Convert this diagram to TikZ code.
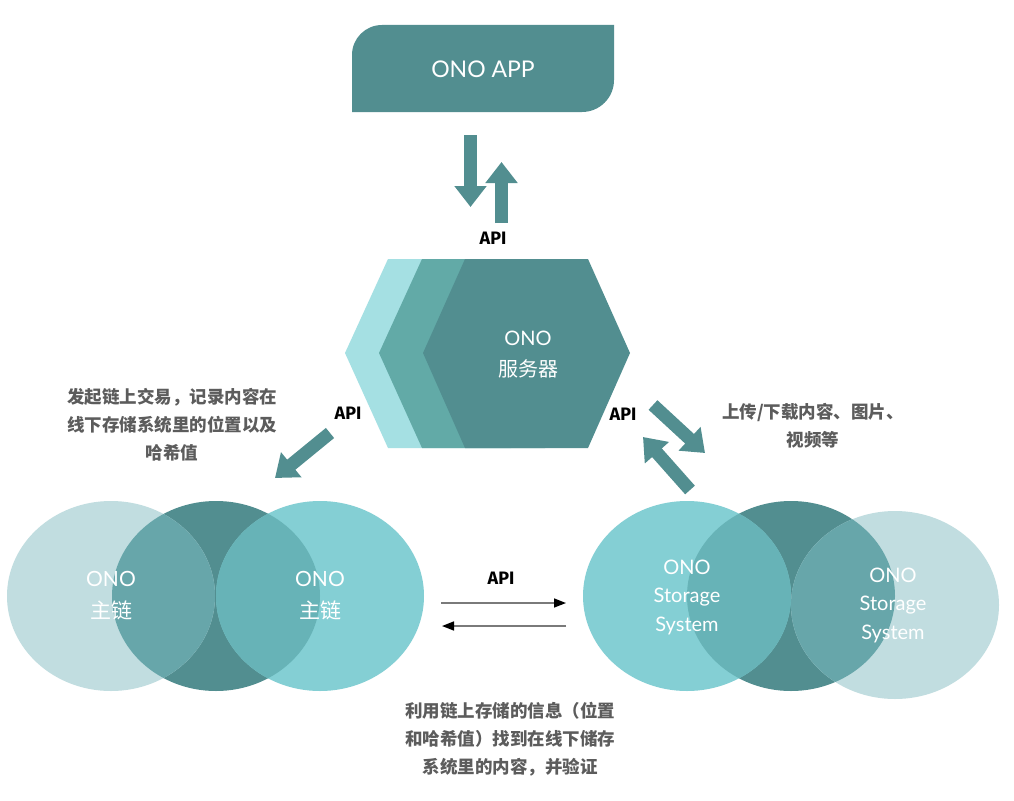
\documentclass[tikz,border=0pt]{standalone}
\usepackage{fontspec}
\setmainfont{Lato}
\newfontfamily\cjk{Noto Sans CJK SC}
\newfontfamily\apifont{Fira Sans}
\usetikzlibrary{arrows.meta,shapes.geometric}
\definecolor{tealD}{HTML}{528E90}
\definecolor{tealM}{HTML}{62AAA7}
\definecolor{tealL}{HTML}{A5E0E3}
\definecolor{cyanC}{HTML}{84CFD4}
\definecolor{paleC}{HTML}{C1DDE0}
\definecolor{ovA}{HTML}{67A6AA}
\definecolor{ovB}{HTML}{67B3B7}
\definecolor{notegray}{HTML}{5C5C5C}
\definecolor{linegray}{HTML}{7A7A7A}
\begin{document}
\begin{tikzpicture}[x=1pt,y=-1pt,
  fatarrow/.style={draw=tealD,line width=13pt,-{Triangle[length=21pt,width=31pt]}},
  thinarrow/.style={draw=linegray,line width=1.5pt,-{Triangle[length=12pt,width=9pt,color=black]}},
  apilabel/.style={font=\apifont\bfseries\fontsize{18}{20}\selectfont,text=black,inner sep=0pt},
  whitetext/.style={text=white,align=center,inner sep=0pt},
  note/.style={text=notegray,align=center,inner sep=0pt,font=\cjk\bfseries\fontsize{17.5}{28}\selectfont},
  circ/.style={ellipse,minimum width=208pt,minimum height=190pt,inner sep=0pt}]
\useasboundingbox[fill=white] (0,0) rectangle (1014,800);

% ---- ONO APP ----
\fill[tealD] (352,112) -- (352,55) .. controls (352,38.4) and (365.4,25) .. (382,25)
  -- (614,25) -- (614,80) .. controls (614,97.7) and (599.7,112) .. (582,112) -- cycle;
\node[whitetext,font=\fontsize{23}{26}\selectfont] (app) at (483,69) {ONO APP};

% ---- server hexagon ----
\fill[tealL] (345,353) -- (388,259) -- (511,259) -- (553,353) -- (511,448) -- (388,448) -- cycle;
\fill[tealM] (379,353) -- (422,259) -- (545,259) -- (587,353) -- (545,448) -- (422,448) -- cycle;
\fill[tealD] (423,353) -- (465,259) -- (588,259) -- (630,353) -- (588,448) -- (465,448) -- cycle;
\node[whitetext,font=\fontsize{20}{31}\selectfont] (server) at (528,355)
  {ONO\\ {\cjk 服务器}};

% ---- left circles ----
\node[circ,fill=tealD] (lc2) at (216,596) {};
\node[circ,fill=paleC] (lc1) at (111,596) {};
\node[circ,fill=cyanC] (lc3) at (320,596) {};
\begin{scope}
  \clip (216,596) ellipse [x radius=104, y radius=95];
  \fill[ovA] (111,596) ellipse [x radius=104, y radius=95];
  \fill[ovB] (320,596) ellipse [x radius=104, y radius=95];
\end{scope}
\node[whitetext,font=\fontsize{21}{32}\selectfont] (lt1) at (lc1.center) {ONO\\ {\cjk 主链}};
\node[whitetext,font=\fontsize{21}{32}\selectfont] (lt3) at (lc3.center) {ONO\\ {\cjk 主链}};

% ---- right circles ----
\node[circ,fill=tealD] (rc2) at (791,596) {};
\node[circ,fill=cyanC] (rc1) at (687,596) {};
\node[circ,fill=paleC,minimum height=188pt] (rc3) at (895,605) {};
\begin{scope}
  \clip (791,596) ellipse [x radius=104, y radius=95];
  \fill[ovB] (687,596) ellipse [x radius=104, y radius=95];
  \fill[ovA] (895,605) ellipse [x radius=104, y radius=94];
\end{scope}
\node[whitetext,font=\fontsize{20}{28.5}\selectfont] (rt1) at (687,597) {ONO\\Storage\\System};
\node[whitetext,font=\fontsize{20}{28.5}\selectfont] (rt3) at (893,605) {ONO\\Storage\\System};

% ---- fat arrows ----
\coordinate (d1) at (470.5,135); \coordinate (d2) at (470.5,207);
\coordinate (u1) at (501.5,223); \coordinate (u2) at (501.5,162);
\draw[fatarrow] (d1) -- (d2);
\draw[fatarrow] (u1) -- (u2);
\coordinate (l1) at (330,433); \coordinate (l2) at (275,478);
\draw[fatarrow] (l1) -- (l2);
\coordinate (r1) at (653,405); \coordinate (r2) at (705,453);
\coordinate (r3) at (690,490); \coordinate (r4) at (643,437);
\draw[fatarrow] (r1) -- (r2);
\draw[fatarrow] (r3) -- (r4);

% ---- thin arrows ----
\coordinate (h1) at (441,603); \coordinate (h2) at (566,603);
\coordinate (h3) at (566,626); \coordinate (h4) at (442,626);
\draw[thinarrow] (h1) -- (h2);
\draw[thinarrow] (h3) -- (h4);

% ---- API labels ----
\node[apilabel] (apiTop) at (493,238) {API};
\node[apilabel] (apiL) at (348,413) {API};
\node[apilabel] (apiR) at (623,414) {API};
\node[apilabel] (apiB) at (501,578) {API};

% ---- notes ----
\node[note] (noteL) at (172,425) {发起链上交易，记录内容在\\线下存储系统里的位置以及\\哈希值};
\node[note] (noteR) at (813,426) {上传/下载内容、图片、\\视频等};
\node[note] (noteB) at (510,739) {利用链上存储的信息（位置\\和哈希值）找到在线下储存\\系统里的内容，并验证};
\end{tikzpicture}
\end{document}
